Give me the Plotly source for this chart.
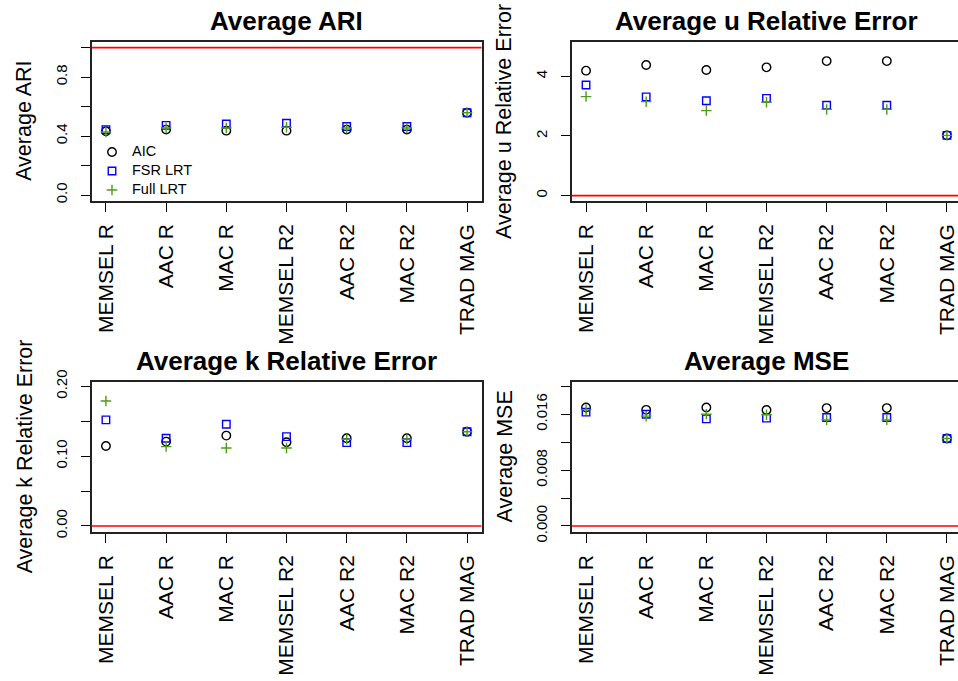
import plotly.graph_objects as go

# Methods along the x axis
methods = ["MEMSEL R", "AAC R", "MAC R", "MEMSEL R2", "AAC R2", "MAC R2", "TRAD MAG"]
xpos = [1, 2, 3, 4, 5, 6, 7]

# Average ARI
ari_aic = [0.433, 0.444, 0.437, 0.437, 0.444, 0.444, 0.558]
ari_fsr = [0.444, 0.473, 0.482, 0.487, 0.465, 0.465, 0.558]
ari_full = [0.428, 0.455, 0.455, 0.460, 0.455, 0.455, 0.558]

# Average u relative error
u_aic = [4.19, 4.38, 4.21, 4.30, 4.51, 4.51, 2.02]
u_fsr = [3.71, 3.31, 3.18, 3.26, 3.03, 3.03, 2.02]
u_full = [3.32, 3.15, 2.85, 3.13, 2.89, 2.89, 2.02]

# Average k relative error
k_aic = [0.1146, 0.1208, 0.1294, 0.1199, 0.1256, 0.1256, 0.135]
k_fsr = [0.152, 0.1256, 0.1457, 0.128, 0.1194, 0.1194, 0.135]
k_full = [0.179, 0.1137, 0.1117, 0.1117, 0.1242, 0.1242, 0.135]

# Average MSE
mse_aic = [0.01697, 0.01663, 0.01697, 0.0166, 0.01688, 0.01688, 0.01252]
mse_fsr = [0.0163, 0.0160, 0.01534, 0.01544, 0.01553, 0.01553, 0.01252]
mse_full = [0.01663, 0.01573, 0.0160, 0.01592, 0.0152, 0.0152, 0.01252]

series_names = ["AIC", "FSR LRT", "Full LRT"]
series_colors = ["#000000", "#0000FF", "#4E9A1E"]
series_symbols = ["circle-open", "square-open", "cross-thin-open"]
series_sizes = [8.5, 7.5, 7.5]

# panel: title, y-axis title, reference line, data, y range, tick values, tick labels
panels = [
    dict(title="Average ARI", ytitle="Average ARI", ref=1.0,
         data=[ari_aic, ari_fsr, ari_full], yrange=[-0.04, 1.04],
         tickvals=[0, 0.2, 0.4, 0.6, 0.8, 1.0],
         ticktext=["0.0", "", "0.4", "", "0.8", ""]),
    dict(title="Average u Relative Error", ytitle="Average u Relative Error", ref=0.0,
         data=[u_aic, u_fsr, u_full], yrange=[-0.18, 5.16],
         tickvals=[0, 2, 4], ticktext=["0", "2", "4"]),
    dict(title="Average k Relative Error", ytitle="Average k Relative Error", ref=0.0,
         data=[k_aic, k_fsr, k_full], yrange=[-0.0086, 0.2066],
         tickvals=[0, 0.05, 0.10, 0.15, 0.20],
         ticktext=["0.00", "", "0.10", "", "0.20"]),
    dict(title="Average MSE", ytitle="Average MSE", ref=0.0,
         data=[mse_aic, mse_fsr, mse_full], yrange=[-0.00086, 0.02066],
         tickvals=[0, 0.004, 0.008, 0.012, 0.016, 0.020],
         ticktext=["0.000", "", "0.008", "", "0.016", ""]),
]

W, H = 958, 681
FONT = "Liberation Sans, Arial, Helvetica, sans-serif"

# plot boxes in pixels: (left, right, top, bottom); right-hand boxes run past the page edge
boxes = [
    (91.5, 481.5, 41.7, 201.0),
    (571.6, 961.4, 41.7, 201.0),
    (91.5, 481.5, 381.7, 532.0),
    (571.6, 961.4, 381.7, 532.0),
]
XLIM = [0.76, 7.24]

fig = go.Figure()
layout = dict(
    width=W, height=H,
    margin=dict(l=0, r=0, t=0, b=0, pad=0, autoexpand=False),
    paper_bgcolor="white", plot_bgcolor="white",
    font=dict(family=FONT, color="black"),
    showlegend=True,
    legend=dict(x=92 / W, y=1 - 137.5 / H, xanchor="left", yanchor="top",
                bgcolor="rgba(0,0,0,0)", borderwidth=0,
                font=dict(size=10, family=FONT, color="black"),
                tracegroupgap=0),
)
annotations = []
shapes = []

for i, (p, box) in enumerate(zip(panels, boxes)):
    n = "" if i == 0 else str(i + 1)
    left, right, top, bottom = box
    clipped = right > W
    # visible part of the x range when the box is cut by the page edge
    px_per_unit = (right - left) / (XLIM[1] - XLIM[0])
    xr = [XLIM[0], XLIM[0] + (min(right, W) - left) / px_per_unit]
    layout["xaxis" + n] = dict(
        domain=[left / W, min(right, W) / W], range=xr, anchor="y" + n,
        tickmode="array", tickvals=xpos, ticktext=methods, tickangle=-90,
        ticks="outside", ticklen=9, tickwidth=1.2, tickcolor="black",
        showline=True, linecolor="#222", linewidth=1.5, mirror=True,
        showgrid=False, zeroline=False, ticklabelstandoff=4, automargin=False,
        tickfont=dict(size=21, family=FONT, color="black"),
    )
    layout["yaxis" + n] = dict(
        domain=[1 - bottom / H, 1 - top / H], range=p["yrange"], anchor="x" + n,
        tickmode="array", tickvals=p["tickvals"], ticktext=p["ticktext"],
        tickangle=-90, ticks="outside", ticklen=9, tickwidth=1.2, tickcolor="black",
        showline=True, linecolor="#222", linewidth=1.5, mirror=not clipped,
        showgrid=False, zeroline=False, ticklabelstandoff=8, automargin=False,
        tickfont=dict(size=15, family=FONT, color="black"),
    )
    for j in range(3):
        label = '<span style="font-size:14.5px">' + series_names[j] + "</span>"
        fig.add_trace(go.Scatter(
            x=xpos, y=p["data"][j], mode="markers", name=label,
            xaxis="x" + n, yaxis="y" + n, showlegend=(i == 0), cliponaxis=False,
            marker=dict(symbol=series_symbols[j], size=series_sizes[j],
                        color=series_colors[j],
                        line=dict(width=1.4, color=series_colors[j])),
        ))
    shapes.append(dict(type="line", xref="x" + n + " domain", x0=0, x1=1,
                       yref="y" + n, y0=p["ref"], y1=p["ref"],
                       line=dict(color="#FF0000", width=1.6)))
    cx = (left + right) / 2
    annotations.append(dict(
        text="<b>" + p["title"] + "</b>", xref="paper", yref="paper",
        x=cx / W, y=1 - (top - 20.5) / H, xanchor="center", yanchor="middle",
        showarrow=False, font=dict(size=26, family=FONT, color="black")))
    annotations.append(dict(
        text=p["ytitle"], xref="paper", yref="paper", textangle=-90,
        x=(left - 67) / W, y=1 - ((top + bottom) / 2) / H,
        xanchor="center", yanchor="middle", showarrow=False,
        font=dict(size=21.5, family=FONT, color="black")))

layout["annotations"] = annotations
layout["shapes"] = shapes
fig.update_layout(**layout)
fig.write_html("out.html")
